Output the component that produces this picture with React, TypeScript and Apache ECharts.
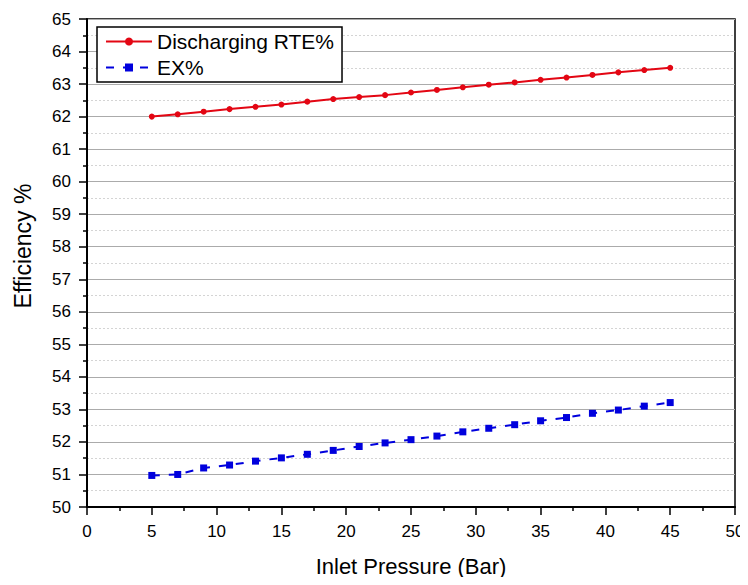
import React, { useEffect, useRef } from "react";
import * as echarts from "echarts";

const pressures = [5, 7, 9, 11, 13, 15, 17, 19, 21, 23, 25, 27, 29, 31, 33, 35, 37, 39, 41, 43, 45];
const rteValues = [62.0, 62.07, 62.15, 62.23, 62.3, 62.37, 62.46, 62.54, 62.6, 62.66, 62.74, 62.82, 62.9, 62.98, 63.05, 63.13, 63.2, 63.28, 63.36, 63.43, 63.5];
const exValues = [50.97, 51.0, 51.2, 51.29, 51.41, 51.51, 51.62, 51.74, 51.86, 51.97, 52.07, 52.18, 52.31, 52.42, 52.53, 52.65, 52.75, 52.88, 52.98, 53.1, 53.21];
const seriesNames = ["Discharging RTE%", "EX%"];

export default function App() {
  const ref = useRef<HTMLDivElement>(null);
  useEffect(() => {
    const chart = echarts.init(ref.current!, null, { renderer: "svg" });
    const font = "'Liberation Sans', Arial, sans-serif";
    chart.setOption({
      animation: false,
      backgroundColor: "#fff",
      grid: {
        left: 79,
        top: 11,
        width: 648,
        height: 488,
        show: true,
        borderColor: "#000",
        borderWidth: 1.5,
        backgroundColor: "transparent",
        containLabel: false,
        outerBoundsMode: "none",
      },
      legend: {
        left: 89,
        top: 19,
        orient: "vertical",
        padding: [4, 8, 4, 8],
        itemGap: 5,
        itemWidth: 46,
        itemHeight: 10,
        borderColor: "#000",
        borderWidth: 1.5,
        backgroundColor: "#fff",
        textStyle: { fontFamily: font, fontSize: 21, color: "#000" },
        data: seriesNames,
      },
      xAxis: {
        type: "value",
        min: 0,
        max: 50,
        interval: 5,
        name: "Inlet Pressure (Bar)",
        nameLocation: "middle",
        nameGap: 48,
        nameTextStyle: { fontFamily: font, fontSize: 22, color: "#000" },
        axisLine: { onZero: false, lineStyle: { color: "#000", width: 2 } },
        axisTick: { inside: false, length: 8, lineStyle: { color: "#000", width: 1.5 } },
        minorTick: { show: true, splitNumber: 2, length: 4, lineStyle: { color: "#000", width: 1.5 } },
        axisLabel: { fontFamily: font, fontSize: 17, color: "#000", margin: 16 },
        splitLine: { show: false },
      },
      yAxis: {
        type: "value",
        min: 50,
        max: 65,
        interval: 1,
        name: "Efficiency %",
        nameLocation: "middle",
        nameGap: 53,
        nameTextStyle: { fontFamily: font, fontSize: 23, color: "#000", padding: [0, 0, 0, 34] },
        axisLine: { onZero: false, lineStyle: { color: "#000", width: 2 } },
        axisTick: { inside: false, length: 8, lineStyle: { color: "#000", width: 1.5 } },
        minorTick: { show: true, splitNumber: 2, length: 4, lineStyle: { color: "#000", width: 1.5 } },
        axisLabel: { fontFamily: font, fontSize: 17, color: "#000", margin: 16 },
        splitLine: { show: true, lineStyle: { color: "#ababab", width: 1.2 } },
        minorSplitLine: { show: true, lineStyle: { color: "#d4d4d4", type: [2, 2], width: 1 } },
      },
      series: [
        {
          name: seriesNames[0],
          type: "line",
          data: pressures.map((p, i) => [p, rteValues[i]]),
          symbol: "circle",
          symbolSize: 6,
          itemStyle: { color: "#e30613" },
          lineStyle: { color: "#e30613", width: 2 },
          z: 3,
        },
        {
          name: seriesNames[1],
          type: "line",
          data: pressures.map((p, i) => [p, exValues[i]]),
          symbol: "rect",
          symbolSize: 7,
          itemStyle: { color: "#0000dd" },
          lineStyle: { color: "#0000dd", width: 2, type: [8, 9] },
          z: 3,
        },
      ],
    });
    return () => chart.dispose();
  }, []);
  return <div ref={ref} style={{ width: 740, height: 569 }} />;
}
